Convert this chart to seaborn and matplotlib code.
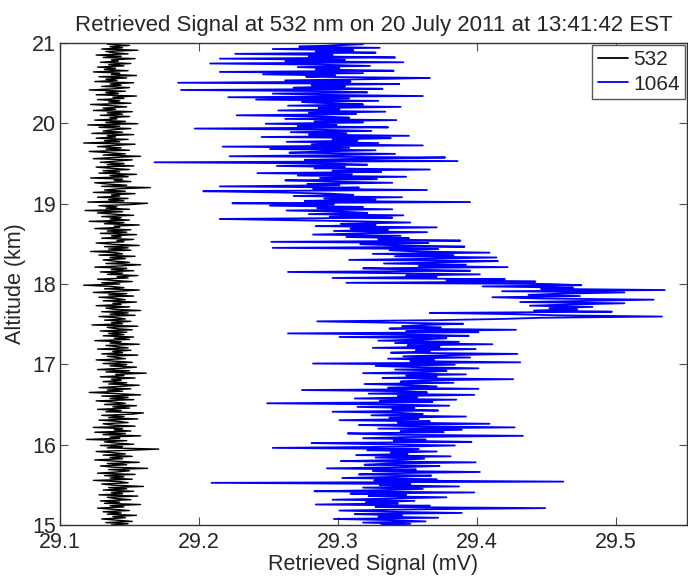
import numpy as np
import pandas as pd
import matplotlib
matplotlib.use("Agg")
import matplotlib.pyplot as plt
import seaborn as sns

# Lidar return profiles, 15-21 km, 15 m bins
alt_start, alt_stop, n_bins = 15.0, 21.0, 401

signal_532 = [
    29.137, 29.149, 29.133, 29.152, 29.141, 29.130, 29.147, 29.138, 29.155, 29.134,
    29.144, 29.131, 29.150, 29.139, 29.127, 29.146, 29.136, 29.158, 29.132, 29.143,
    29.129, 29.151, 29.140, 29.134, 29.156, 29.128, 29.145, 29.137, 29.153, 29.131,
    29.148, 29.135, 29.160, 29.139, 29.130, 29.149, 29.143, 29.124, 29.152, 29.136,
    29.146, 29.132, 29.154, 29.127, 29.141, 29.150, 29.135, 29.163, 29.138, 29.129,
    29.148, 29.134, 29.157, 29.140, 29.125, 29.145, 29.136, 29.152, 29.131, 29.147,
    29.138, 29.126, 29.150, 29.171, 29.134, 29.145, 29.129, 29.153, 29.140, 29.132,
    29.148, 29.119, 29.143, 29.136, 29.158, 29.131, 29.147, 29.125, 29.151, 29.139,
    29.145, 29.124, 29.154, 29.137, 29.131, 29.149, 29.142, 29.128, 29.156, 29.135,
    29.146, 29.130, 29.152, 29.160, 29.133, 29.144, 29.127, 29.150, 29.138, 29.155,
    29.132, 29.147, 29.139, 29.126, 29.153, 29.136, 29.149, 29.130, 29.158, 29.141,
    29.121, 29.145, 29.134, 29.151, 29.128, 29.143, 29.157, 29.135, 29.148, 29.131,
    29.144, 29.137, 29.154, 29.129, 29.146, 29.140, 29.162, 29.133, 29.150, 29.127,
    29.143, 29.155, 29.136, 29.148, 29.131, 29.152, 29.139, 29.126, 29.147, 29.141,
    29.134, 29.156, 29.130, 29.145, 29.138, 29.151, 29.127, 29.149, 29.141, 29.133,
    29.157, 29.136, 29.144, 29.125, 29.150, 29.139, 29.153, 29.131, 29.146, 29.135,
    29.148, 29.129, 29.152, 29.140, 29.134, 29.156, 29.123, 29.145, 29.137, 29.151,
    29.132, 29.147, 29.141, 29.128, 29.154, 29.136, 29.149, 29.130, 29.158, 29.139,
    29.133, 29.150, 29.126, 29.144, 29.138, 29.155, 29.131, 29.147, 29.140, 29.128,
    29.153, 29.135, 29.148, 29.124, 29.142, 29.157, 29.132, 29.146, 29.137, 29.117,
    29.143, 29.130, 29.152, 29.138, 29.127, 29.149, 29.141, 29.156, 29.134, 29.145,
    29.129, 29.153, 29.137, 29.148, 29.125, 29.144, 29.158, 29.133, 29.150, 29.139,
    29.131, 29.147, 29.136, 29.154, 29.128, 29.145, 29.140, 29.122, 29.151, 29.135,
    29.149, 29.132, 29.157, 29.138, 29.126, 29.146, 29.141, 29.153, 29.130, 29.144,
    29.137, 29.155, 29.129, 29.148, 29.134, 29.151, 29.125, 29.143, 29.139, 29.157,
    29.132, 29.146, 29.121, 29.150, 29.136, 29.144, 29.130, 29.153, 29.138, 29.127,
    29.145, 29.118, 29.150, 29.133, 29.141, 29.128, 29.152, 29.163, 29.120, 29.146,
    29.135, 29.149, 29.127, 29.143, 29.137, 29.154, 29.124, 29.147, 29.132, 29.142,
    29.165, 29.130, 29.148, 29.134, 29.125, 29.151, 29.139, 29.145, 29.122, 29.149,
    29.136, 29.155, 29.128, 29.143, 29.131, 29.150, 29.137, 29.126, 29.153, 29.134,
    29.146, 29.129, 29.141, 29.152, 29.124, 29.138, 29.158, 29.131, 29.147, 29.135,
    29.121, 29.150, 29.133, 29.144, 29.127, 29.139, 29.154, 29.117, 29.143, 29.132,
    29.149, 29.126, 29.140, 29.134, 29.153, 29.123, 29.145, 29.131, 29.138, 29.151,
    29.128, 29.143, 29.120, 29.156, 29.133, 29.147, 29.125, 29.141, 29.136, 29.150,
    29.129, 29.145, 29.134, 29.152, 29.124, 29.140, 29.131, 29.148, 29.137, 29.122,
    29.151, 29.135, 29.143, 29.127, 29.146, 29.138, 29.155, 29.126, 29.142, 29.133,
    29.147, 29.121, 29.139, 29.150, 29.130, 29.144, 29.136, 29.153, 29.125, 29.141,
    29.133, 29.148, 29.128, 29.155, 29.137, 29.143, 29.124, 29.149, 29.132, 29.140,
    29.127, 29.146, 29.135, 29.151, 29.129, 29.142, 29.137, 29.154, 29.131, 29.144,
    29.126, 29.149, 29.138, 29.133, 29.156, 29.130, 29.145, 29.136, 29.150, 29.134,
    29.141,
]

signal_1064 = [
    29.331, 29.352, 29.318, 29.363, 29.340, 29.297, 29.372, 29.329, 29.346, 29.312,
    29.389, 29.335, 29.301, 29.358, 29.449, 29.327, 29.366, 29.284, 29.343, 29.320,
    29.355, 29.296, 29.341, 29.378, 29.322, 29.349, 29.309, 29.398, 29.283, 29.336,
    29.361, 29.318, 29.387, 29.330, 29.352, 29.209, 29.462, 29.326, 29.371, 29.303,
    29.344, 29.367, 29.315, 29.339, 29.402, 29.325, 29.356, 29.292, 29.348, 29.373,
    29.319, 29.336, 29.399, 29.302, 29.344, 29.362, 29.327, 29.381, 29.313, 29.350,
    29.338, 29.371, 29.321, 29.358, 29.253, 29.347, 29.384, 29.329, 29.281, 29.396,
    29.340, 29.363, 29.318, 29.351, 29.433, 29.334, 29.307, 29.376, 29.345, 29.389,
    29.329, 29.427, 29.352, 29.315, 29.409, 29.343, 29.366, 29.301, 29.358, 29.337,
    29.392, 29.324, 29.361, 29.346, 29.296, 29.372, 29.339, 29.355, 29.314, 29.380,
    29.341, 29.249, 29.368, 29.330, 29.385, 29.312, 29.357, 29.343, 29.398, 29.322,
    29.364, 29.349, 29.274, 29.401, 29.336, 29.371, 29.352, 29.319, 29.383, 29.345,
    29.360, 29.426, 29.332, 29.371, 29.349, 29.392, 29.318, 29.365, 29.378, 29.341,
    29.401, 29.356, 29.327, 29.384, 29.282, 29.431, 29.352, 29.369, 29.336, 29.395,
    29.347, 29.381, 29.429, 29.338, 29.366, 29.356, 29.399, 29.325, 29.373, 29.350,
    29.411, 29.341, 29.387, 29.329, 29.362, 29.378, 29.301, 29.394, 29.355, 29.264,
    29.401, 29.349, 29.428, 29.337, 29.374, 29.346, 29.362, 29.390, 29.331, 29.285,
    29.372, 29.418, 29.447, 29.533, 29.458, 29.425, 29.366, 29.497, 29.441, 29.472,
    29.452, 29.483, 29.438, 29.467, 29.506, 29.431, 29.479, 29.527, 29.445, 29.411,
    29.474, 29.437, 29.461, 29.506, 29.418, 29.535, 29.446, 29.469, 29.404, 29.475,
    29.451, 29.306, 29.442, 29.378, 29.420, 29.296, 29.371, 29.349, 29.402, 29.337,
    29.264, 29.395, 29.351, 29.318, 29.422, 29.358, 29.392, 29.333, 29.376, 29.415,
    29.308, 29.367, 29.414, 29.341, 29.383, 29.325, 29.409, 29.356, 29.337, 29.372,
    29.253, 29.391, 29.344, 29.316, 29.365, 29.252, 29.388, 29.329, 29.351, 29.306,
    29.345, 29.282, 29.318, 29.364, 29.297, 29.336, 29.309, 29.371, 29.284, 29.327,
    29.302, 29.352, 29.316, 29.262, 29.215, 29.339, 29.294, 29.347, 29.279, 29.321,
    29.304, 29.263, 29.339, 29.285, 29.318, 29.251, 29.297, 29.224, 29.395, 29.276,
    29.327, 29.290, 29.346, 29.268, 29.311, 29.293, 29.257, 29.203, 29.364, 29.282,
    29.315, 29.215, 29.301, 29.278, 29.339, 29.294, 29.262, 29.328, 29.287, 29.349,
    29.271, 29.310, 29.242, 29.331, 29.296, 29.366, 29.283, 29.305, 29.256, 29.321,
    29.297, 29.168, 29.386, 29.276, 29.318, 29.377, 29.222, 29.302, 29.341, 29.265,
    29.289, 29.327, 29.251, 29.308, 29.217, 29.361, 29.281, 29.329, 29.263, 29.314,
    29.296, 29.338, 29.245, 29.351, 29.279, 29.306, 29.266, 29.324, 29.288, 29.197,
    29.336, 29.271, 29.299, 29.248, 29.318, 29.283, 29.342, 29.262, 29.308, 29.291,
    29.227, 29.313, 29.279, 29.334, 29.257, 29.301, 29.286, 29.345, 29.264, 29.318,
    29.293, 29.274, 29.329, 29.241, 29.308, 29.221, 29.361, 29.287, 29.253, 29.321,
    29.296, 29.187, 29.332, 29.268, 29.305, 29.281, 29.344, 29.185, 29.309, 29.262,
    29.324, 29.366, 29.277, 29.298, 29.246, 29.318, 29.215, 29.340, 29.284, 29.301,
    29.271, 29.323, 29.288, 29.208, 29.347, 29.262, 29.305, 29.215, 29.341, 29.279,
    29.296, 29.226, 29.327, 29.284, 29.311, 29.253, 29.330, 29.272, 29.298, 29.318,
    29.289,
]

x_ticks = [29.1, 29.2, 29.3, 29.4, 29.5]
y_ticks = [15, 16, 17, 18, 19, 20, 21]

altitude = np.linspace(alt_start, alt_stop, n_bins)
df = pd.DataFrame({
    "altitude": np.concatenate([altitude, altitude]),
    "signal": np.concatenate([signal_532, signal_1064]),
    "channel": ["532"] * n_bins + ["1064"] * n_bins,
})

sns.set_style("ticks")
plt.rcParams["font.family"] = ["Liberation Sans", "DejaVu Sans"]
plt.rcParams["xtick.direction"] = "in"
plt.rcParams["ytick.direction"] = "in"

fig = plt.figure(figsize=(6.88, 5.78), dpi=100)
ax = fig.add_axes([60 / 688, 1 - 525 / 578, 627 / 688, 482 / 578])

sns.lineplot(data=df, x="signal", y="altitude", hue="channel",
             size="channel", sizes={"532": 1.0, "1064": 1.3},
             palette={"532": "black", "1064": "#0000ff"},
             sort=False, estimator=None, units="channel",
             ax=ax)

ax.set_xlim(29.1, 29.551)
ax.set_ylim(15, 21)
ax.set_xticks(x_ticks)
ax.set_xticklabels([f"{v:.1f}" for v in x_ticks])
ax.set_yticks(y_ticks)
ax.tick_params(axis="both", labelsize=15.5, length=6, width=0.8, color="0.3",
               top=True, right=True, pad=3)
ax.tick_params(axis="x", pad=5)
for s in ax.spines.values():
    s.set_color("0.2")
    s.set_linewidth(1.0)

ax.set_xlabel("Retrieved Signal (mV)", fontsize=15.5, labelpad=1)
ax.set_ylabel("Altitude (km)", fontsize=15.5, labelpad=4)
ax.set_title("Retrieved Signal at 532 nm on 20 July 2011 at 13:41:42 EST",
             fontsize=16, pad=9)

leg = ax.legend(loc="upper right", fontsize=15, frameon=True, fancybox=False,
                handlelength=1.45, handletextpad=0.25, labelspacing=0.25,
                borderpad=0.25, borderaxespad=0.1, title=None)
leg.get_frame().set_edgecolor("0.35")
leg.get_frame().set_linewidth(1.0)
leg.get_frame().set_alpha(1)
for line in leg.get_lines():
    line.set_linewidth(1.3)

fig.savefig("out.png", dpi=100)
